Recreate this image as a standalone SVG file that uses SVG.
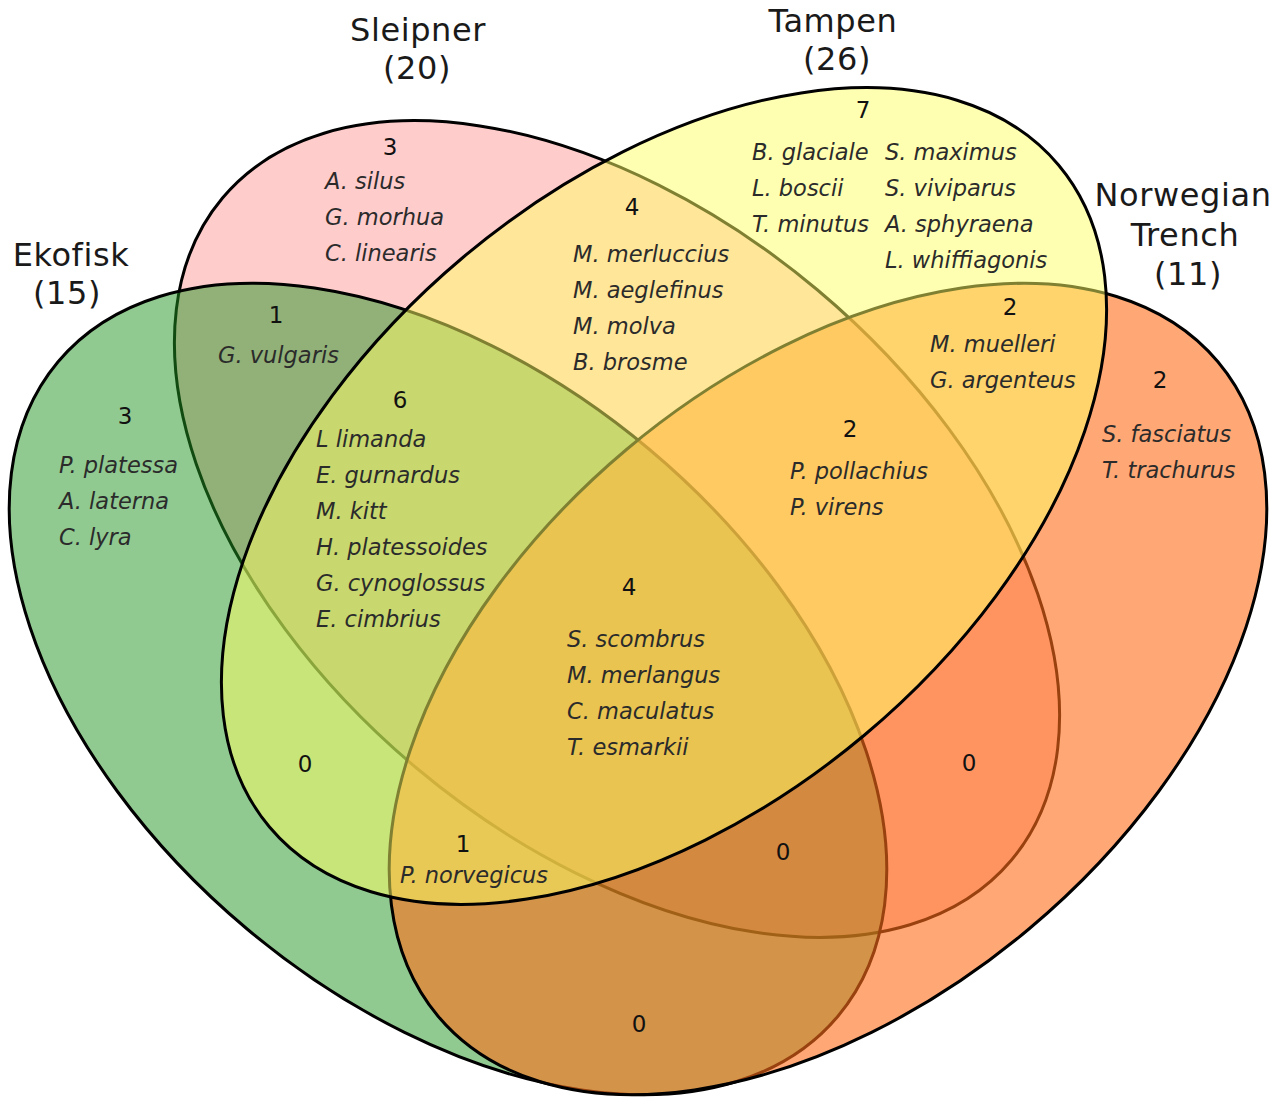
<svg xmlns="http://www.w3.org/2000/svg" width="1286" height="1106" viewBox="0 0 1286 1106">
<style>
.set{stroke:#000;stroke-width:3}
.title{font-family:"DejaVu Sans",Verdana,sans-serif;font-size:32px;letter-spacing:0.6px;fill:#1a1a1a;text-anchor:middle}
.num{font-family:"DejaVu Sans",Verdana,sans-serif;font-size:23px;fill:#111;text-anchor:middle}
.sp{font-family:"DejaVu Sans",Verdana,sans-serif;font-size:22.5px;font-style:italic;fill:#2b2b2b}
</style>
<rect width="1286" height="1106" fill="#fff"/>
<g id="sets">
<g id="sleipner"><ellipse class="set" cx="617" cy="529" rx="515" ry="312" transform="rotate(40 617 529)" fill="rgb(255,153,153)" fill-opacity="0.5"/></g>
<g id="ekofisk"><ellipse class="set" cx="448" cy="689" rx="509" ry="313" transform="rotate(40 448 689)" fill="rgb(35,150,35)" fill-opacity="0.5"/></g>
<g id="norwegian-trench"><ellipse class="set" cx="828" cy="689" rx="509" ry="313" transform="rotate(-40 828 689)" fill="rgb(255,110,25)" fill-opacity="0.6"/></g>
<g id="tampen"><ellipse class="set" cx="664" cy="496" rx="515" ry="312" transform="rotate(-40 664 496)" fill="rgb(255,255,100)" fill-opacity="0.5"/></g>
</g>
<g id="titles">
<text class="title" id="title-sleipner"><tspan x="418" y="41">Sleipner</tspan><tspan x="417" y="79">(20)</tspan></text>
<text class="title" id="title-tampen"><tspan x="833" y="32">Tampen</tspan><tspan x="837" y="70">(26)</tspan></text>
<text class="title" id="title-ekofisk"><tspan x="71" y="266">Ekofisk</tspan><tspan x="67" y="304">(15)</tspan></text>
<text class="title" id="title-norwegian"><tspan x="1183" y="206">Norwegian</tspan><tspan x="1185" y="246">Trench</tspan><tspan x="1188" y="285">(11)</tspan></text>
</g>
<g id="region-sleipner">
<text class="num" x="390" y="155">3</text>
<text class="sp" x="325" y="189">A. silus</text>
<text class="sp" x="325" y="225">G. morhua</text>
<text class="sp" x="325" y="261">C. linearis</text>
</g>
<g id="region-tampen">
<text class="num" x="863" y="118">7</text>
<text class="sp" x="752" y="160">B. glaciale</text>
<text class="sp" x="752" y="196">L. boscii</text>
<text class="sp" x="752" y="232">T. minutus</text>
<text class="sp" x="885" y="160">S. maximus</text>
<text class="sp" x="885" y="196">S. viviparus</text>
<text class="sp" x="885" y="232">A. sphyraena</text>
<text class="sp" x="885" y="268">L. whiffiagonis</text>
</g>
<g id="region-sleipner-tampen">
<text class="num" x="632" y="215">4</text>
<text class="sp" x="573" y="262">M. merluccius</text>
<text class="sp" x="573" y="298">M. aeglefinus</text>
<text class="sp" x="573" y="334">M. molva</text>
<text class="sp" x="573" y="370">B. brosme</text>
</g>
<g id="region-ekofisk-sleipner">
<text class="num" x="276" y="323">1</text>
<text class="sp" x="218" y="363">G. vulgaris</text>
</g>
<g id="region-ekofisk">
<text class="num" x="125" y="424">3</text>
<text class="sp" x="59" y="473">P. platessa</text>
<text class="sp" x="59" y="509">A. laterna</text>
<text class="sp" x="59" y="545">C. lyra</text>
</g>
<g id="region-ekofisk-sleipner-tampen">
<text class="num" x="400" y="408">6</text>
<text class="sp" x="316" y="447">L limanda</text>
<text class="sp" x="316" y="483">E. gurnardus</text>
<text class="sp" x="316" y="519">M. kitt</text>
<text class="sp" x="316" y="555">H. platessoides</text>
<text class="sp" x="316" y="591">G. cynoglossus</text>
<text class="sp" x="316" y="627">E. cimbrius</text>
</g>
<g id="region-all">
<text class="num" x="629" y="595">4</text>
<text class="sp" x="567" y="647">S. scombrus</text>
<text class="sp" x="567" y="683">M. merlangus</text>
<text class="sp" x="567" y="719">C. maculatus</text>
<text class="sp" x="567" y="755">T. esmarkii</text>
</g>
<g id="region-sleipner-tampen-norwegian">
<text class="num" x="850" y="437">2</text>
<text class="sp" x="790" y="479">P. pollachius</text>
<text class="sp" x="790" y="515">P. virens</text>
</g>
<g id="region-tampen-norwegian">
<text class="num" x="1010" y="315">2</text>
<text class="sp" x="930" y="352">M. muelleri</text>
<text class="sp" x="930" y="388">G. argenteus</text>
</g>
<g id="region-norwegian">
<text class="num" x="1160" y="388">2</text>
<text class="sp" x="1102" y="442">S. fasciatus</text>
<text class="sp" x="1102" y="478">T. trachurus</text>
</g>
<g id="region-ekofisk-tampen"><text class="num" x="305" y="772">0</text></g>
<g id="region-ekofisk-tampen-norwegian">
<text class="num" x="463" y="852">1</text>
<text class="sp" x="400" y="883">P. norvegicus</text>
</g>
<g id="region-ekofisk-sleipner-norwegian"><text class="num" x="783" y="860">0</text></g>
<g id="region-sleipner-norwegian"><text class="num" x="969" y="771">0</text></g>
<g id="region-ekofisk-norwegian"><text class="num" x="639" y="1032">0</text></g>
</svg>
